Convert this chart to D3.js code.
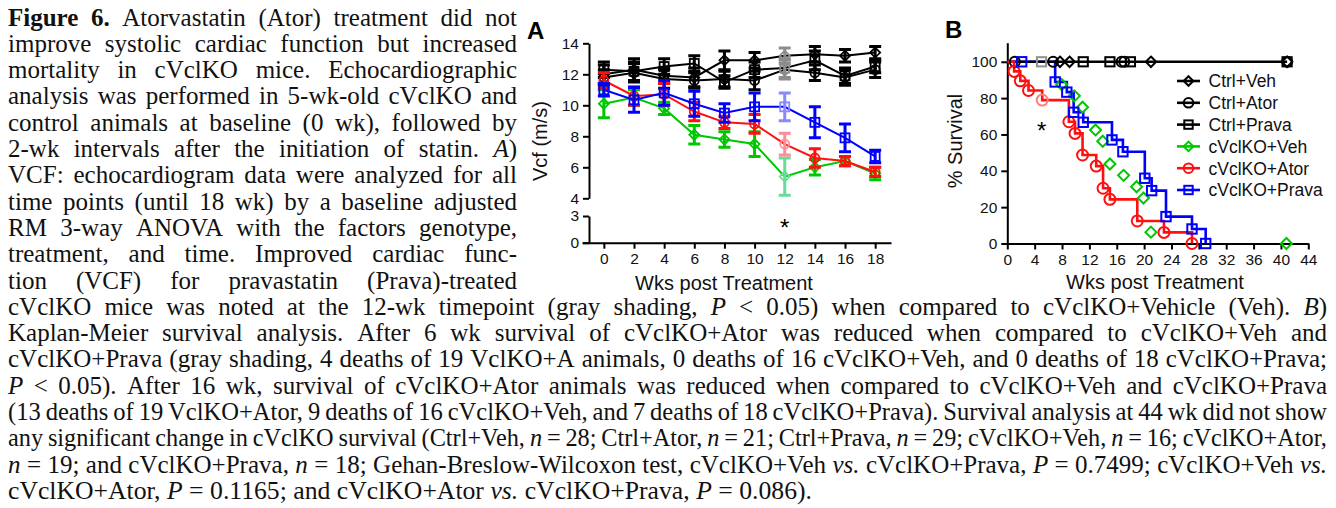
<!DOCTYPE html>
<html><head><meta charset="utf-8">
<script src="https://cdn.jsdelivr.net/npm/d3@7"></script>
<style>body{margin:0;background:#fff}svg{display:block}</style>
</head><body>
<svg id="c" width="1336" height="508"></svg>
<script>
// ---------------- DATA ----------------
const weeks = [0, 2, 4, 6, 8, 10, 12, 14, 16, 18];
const ctrlVehA   = [12.0, 12.3, 11.9, 11.8, 12.9, 12.9, 13.2, 13.3, 13.2, 13.4];
const ctrlVehErr = [0.6, 0.7, 0.5, 0.6, 0.6, 0.5, 0.5, 0.5, 0.4, 0.4];
const ctrlAtorA  = [11.8, 12.1, 11.7, 11.6, 11.7, 11.6, 12.3, 12.1, 11.8, 12.3];
const ctrlAtorErr= [0.5, 0.6, 0.6, 0.5, 0.5, 0.6, 0.6, 0.5, 0.5, 0.5];
const ctrlPravaA = [12.3, 12.2, 12.5, 12.7, 11.5, 12.3, 12.4, 12.9, 11.9, 12.5];
const ctrlPravaErr=[0.5, 0.6, 0.5, 0.5, 0.4, 0.5, 0.6, 0.6, 0.5, 0.4];
const koVehA     = [10.1, 10.5, 9.8, 8.1, 7.8, 7.5, 5.4, 6.0, 6.4, 5.6];
const koVehErr   = [0.9, 0.5, 0.4, 0.6, 0.5, 0.8, 1.2, 0.5, 0.3, 0.4];
const koAtorA    = [11.6, 10.6, 10.7, 9.6, 8.9, 8.8, 7.5, 6.6, 6.4, 5.7];
const koAtorErr  = [0.5, 0.6, 0.7, 0.6, 0.4, 0.6, 0.7, 0.6, 0.3, 0.3];
const koPravaA   = [11.0, 10.35, 10.8, 10.1, 9.5, 9.9, 9.9, 8.9, 7.9, 6.7];
const koPravaErr = [0.4, 0.8, 0.8, 0.8, 0.6, 0.9, 0.9, 1.0, 0.9, 0.4];
const shadedWeek = 12;
const yTicksTop = [4, 6, 8, 10, 12, 14];
const yTicksBottom = [0, 3];

// survival (panel B): event times (wk) and survival (%) after each step
const survKoAtorT  = [1.0, 1.9, 3.1, 5.1, 9.0, 9.9, 11.0, 13.0, 14.0, 15.0, 19.0, 22.9, 27.0];
const survKoAtorS  = [94.7, 89.5, 84.2, 78.9, 67.0, 60.6, 48.7, 42.6, 30.4, 24.3, 12.4, 6.1, 0];
const survKoPravaT = [7.0, 8.7, 9.7, 11.1, 15.3, 16.9, 20.1, 21.1, 23.2, 27.0, 29.0];
const survKoPravaS = [88.9, 83.3, 72.2, 66.7, 57.0, 50.5, 35.9, 29.1, 14.8, 8.0, 0];
const survKoPravaCensorT = [2.1];
const survKoVehT   = [7.95, 9.8, 11.0, 12.9, 13.95, 15.0, 17.0, 18.9, 19.9, 21.0, 40.8];
const survKoVehS   = [87.5, 81.25, 75.0, 62.5, 56.25, 43.75, 37.5, 31.25, 25.0, 6.25, 0];
const survCtrlEndT = 40.9;
const ctrlVehCensorT   = [7.7, 9.1, 21.0, 40.9];
const ctrlAtorCensorT  = [1.1, 6.7, 16.7, 17.1, 40.9];
const ctrlPravaCensorT = [5.0, 11.1, 15.0, 18.0, 40.9];
const survShadedT = 5.0;
const survXTicks = [0, 4, 8, 12, 16, 20, 24, 28, 32, 36, 40, 44];
const survYTicks = [0, 20, 40, 60, 80, 100];
const legendNames = ["Ctrl+Veh", "Ctrl+Ator", "Ctrl+Prava", "cVclKO+Veh", "cVclKO+Ator", "cVclKO+Prava"];

// caption (^ toggles bold, * toggles italic)
const captionLeft = [
"^Figure 6.^ Atorvastatin (Ator) treatment did not",
"improve systolic cardiac function but increased",
"mortality in cVclKO mice. Echocardiographic",
"analysis was performed in 5-wk-old cVclKO and",
"control animals at baseline (0 wk), followed by",
"2-wk intervals after the initiation of statin. *A*)",
"VCF: echocardiogram data were analyzed for all",
"time points (until 18 wk) by a baseline adjusted",
"RM 3-way ANOVA with the factors genotype,",
"treatment, and time. Improved cardiac func-",
"tion (VCF) for pravastatin (Prava)-treated"
];
const captionFull = [
"cVclKO mice was noted at the 12-wk timepoint (gray shading, *P* < 0.05) when compared to cVclKO+Vehicle (Veh). *B*)",
"Kaplan-Meier survival analysis. After 6 wk survival of cVclKO+Ator was reduced when compared to cVclKO+Veh and",
"cVclKO+Prava (gray shading, 4 deaths of 19 VclKO+A animals, 0 deaths of 16 cVclKO+Veh, and 0 deaths of 18 cVclKO+Prava;",
"*P* < 0.05). After 16 wk, survival of cVclKO+Ator animals was reduced when compared to cVclKO+Veh and cVclKO+Prava",
"(13 deaths of 19 VclKO+Ator, 9 deaths of 16 cVclKO+Veh, and 7 deaths of 18 cVclKO+Prava). Survival analysis at 44 wk did not show",
"any significant change in cVclKO survival (Ctrl+Veh, *n* = 28; Ctrl+Ator, *n* = 21; Ctrl+Prava, *n* = 29; cVclKO+Veh, *n* = 16; cVclKO+Ator,",
"*n* = 19; and cVclKO+Prava, *n* = 18; Gehan-Breslow-Wilcoxon test, cVclKO+Veh *vs.* cVclKO+Prava, *P* = 0.7499; cVclKO+Veh *vs.*",
"cVclKO+Ator, *P* = 0.1165; and cVclKO+Ator *vs.* cVclKO+Prava, *P* = 0.086)."
];

// ---------------- DRAWING ----------------
const SANS = "'Liberation Sans', Arial, Helvetica, sans-serif";
const SERIF = "'Liberation Serif', 'Times New Roman', serif";
const svg = d3.select('#c');

// ---- caption ----
const CAP_FS = 25;
const capG = svg.append('g').attr('font-family', SERIF).attr('font-size', CAP_FS).attr('fill', '#111');
function drawCaptionLine(str, x0, x1, baseline, justify) {
  const words = []; let cur = []; let b = false, it = false, buf = '';
  const flush = () => { if (buf) { cur.push({t: buf, b, i: it}); buf = ''; } };
  for (const ch of str) {
    if (ch === '^') { flush(); b = !b; continue; }
    if (ch === '*') { flush(); it = !it; continue; }
    if (ch === ' ') { flush(); if (cur.length) { words.push(cur); cur = []; } continue; }
    buf += ch;
  }
  flush(); if (cur.length) words.push(cur);
  const lg = capG.append('g');
  const nodes = words.map(w => {
    const t = lg.append('text');
    w.forEach(r => t.append('tspan').text(r.t)
      .attr('font-weight', r.b ? 'bold' : null)
      .attr('font-style', r.i ? 'italic' : null));
    return t;
  });
  const widths = nodes.map(n => n.node().getComputedTextLength());
  const sum = d3.sum(widths);
  const n = nodes.length, W = x1 - x0;
  const natGap = CAP_FS * 0.25, minGap = CAP_FS * 0.2;
  let s = 1, gap = natGap;
  if (justify && n > 1) {
    gap = (W - sum) / (n - 1);
    if (gap < minGap) { gap = minGap; s = W / (sum + (n - 1) * minGap); }
  } else {
    s = W / (sum + (n - 1) * natGap);
  }
  let x = 0;
  nodes.forEach((nd, i) => { nd.attr('x', x); x += widths[i] + gap; });
  lg.attr('transform', `translate(${x0},${baseline}) scale(${s},1)`);
}
const CAP_BASE0 = 25.5, CAP_STEP = 26.3;
captionLeft.forEach((l, i) => drawCaptionLine(l, 8, 517, CAP_BASE0 + i * CAP_STEP, true));
captionFull.forEach((l, i) => {
  const last = i === captionFull.length - 1;
  drawCaptionLine(l, 8, last ? 812 : 1327, CAP_BASE0 + (i + captionLeft.length) * CAP_STEP, !last);
});

// ---- markers ----
function marker(g, shape, x, y, r, color, sw) {
  if (shape === 'circle') {
    g.append('circle').attr('cx', x).attr('cy', y).attr('r', r)
      .attr('fill', 'none').attr('stroke', color).attr('stroke-width', sw);
  } else if (shape === 'square') {
    g.append('rect').attr('x', x - r).attr('y', y - r).attr('width', 2 * r).attr('height', 2 * r)
      .attr('fill', 'none').attr('stroke', color).attr('stroke-width', sw);
  } else {
    g.append('path').attr('d', `M${x},${y - r}L${x + r},${y}L${x},${y + r}L${x - r},${y}Z`)
      .attr('fill', 'none').attr('stroke', color).attr('stroke-width', sw);
  }
}
function styleAxis(g, fs) {
  g.attr('font-family', SANS).attr('font-size', fs);
  g.selectAll('.domain').attr('stroke', '#000').attr('stroke-width', 2);
  g.selectAll('.tick line').attr('stroke', '#000').attr('stroke-width', 2);
  g.selectAll('.tick text').attr('fill', '#111');
}
const fmtInt = d3.format('d');

// ---- Panel A ----
const gA = svg.append('g');
const xA = d3.scaleLinear().domain([-1.45, 19.05]).range([582, 891]);
const yTop = d3.scaleLinear().domain([4, 14]).range([198.3, 43.3]);
const yBot = d3.scaleLinear().domain([0, 3]).range([242.7, 216]);
const yA = v => v >= 4 ? yTop(v) : yBot(v);

styleAxis(gA.append('g').attr('transform', 'translate(589,0)')
  .call(d3.axisLeft(yTop).tickValues(yTicksTop).tickFormat(fmtInt).tickSize(6).tickSizeOuter(0).tickPadding(4)), 15.5);
styleAxis(gA.append('g').attr('transform', 'translate(589,0)')
  .call(d3.axisLeft(yBot).tickValues(yTicksBottom).tickFormat(fmtInt).tickSize(6).tickSizeOuter(0).tickPadding(4)), 15.5);
styleAxis(gA.append('g').attr('transform', 'translate(0,242.7)')
  .call(d3.axisBottom(xA).tickValues(weeks).tickFormat(fmtInt).tickSize(6).tickSizeOuter(0).tickPadding(4)), 15.5);

gA.append('text').text('A').attr('x', 527).attr('y', 38.5).attr('font-family', SANS)
  .attr('font-weight', 'bold').attr('font-size', 24).attr('fill', '#000');
gA.append('text').text('Vcf (m/s)').attr('transform', 'translate(547,141) rotate(-90)')
  .attr('text-anchor', 'middle').attr('font-family', SANS).attr('font-size', 20).attr('fill', '#111');
gA.append('text').text('Wks post Treatment').attr('x', 724).attr('y', 290)
  .attr('text-anchor', 'middle').attr('font-family', SANS).attr('font-size', 20).attr('fill', '#111');
gA.append('text').text('*').attr('x', xA(shadedWeek)).attr('y', 236)
  .attr('text-anchor', 'middle').attr('font-family', SANS).attr('font-size', 24).attr('fill', '#000');

const seriesA = [
  {v: ctrlVehA, e: ctrlVehErr, c: '#000', f: '#8c8c8c', s: 'diamond'},
  {v: ctrlAtorA, e: ctrlAtorErr, c: '#000', f: '#8c8c8c', s: 'circle'},
  {v: ctrlPravaA, e: ctrlPravaErr, c: '#000', f: '#8c8c8c', s: 'square'},
  {v: koVehA, e: koVehErr, c: '#00c800', f: '#66dd99', s: 'diamond'},
  {v: koAtorA, e: koAtorErr, c: '#ff1010', f: '#ff8c96', s: 'circle'},
  {v: koPravaA, e: koPravaErr, c: '#0000ff', f: '#8888ff', s: 'square'}
];
const lineA = d3.line().x((d, i) => xA(weeks[i])).y(d => yA(d));
seriesA.forEach(S => {
  const g = gA.append('g');
  g.append('path').attr('d', lineA(S.v)).attr('fill', 'none').attr('stroke', S.c).attr('stroke-width', 2);
  S.v.forEach((v, i) => {
    const col = weeks[i] === shadedWeek ? S.f : S.c;
    const x = xA(weeks[i]), y1 = yA(v + S.e[i]), y2 = yA(v - S.e[i]);
    g.append('path').attr('d', `M${x},${y1}V${y2}M${x - 6},${y1}H${x + 6}M${x - 6},${y2}H${x + 6}`)
      .attr('stroke', col).attr('stroke-width', 3).attr('fill', 'none');
    marker(g, S.s, x, yA(v), S.s === 'diamond' ? 5 : 4.5, col, 1.8);
  });
});

// ---- Panel B ----
const gB = svg.append('g');
const xB = d3.scaleLinear().domain([0, 44]).range([1007.3, 1308.3]);
const yB = d3.scaleLinear().domain([0, 110.5]).range([243.5, 42.7]);
styleAxis(gB.append('g').attr('transform', 'translate(1007.3,0)')
  .call(d3.axisLeft(yB).tickValues(survYTicks).tickFormat(fmtInt).tickSize(6).tickSizeOuter(0).tickPadding(4)), 15.5);
styleAxis(gB.append('g').attr('transform', 'translate(0,243.5)')
  .call(d3.axisBottom(xB).tickValues(survXTicks).tickFormat(fmtInt).tickSize(6).tickSizeOuter(0).tickPadding(4)), 15.5);

gB.append('text').text('B').attr('x', 945).attr('y', 37.5).attr('font-family', SANS)
  .attr('font-weight', 'bold').attr('font-size', 24).attr('fill', '#000');
gB.append('text').text('% Survival').attr('transform', 'translate(962,141) rotate(-90)')
  .attr('text-anchor', 'middle').attr('font-family', SANS).attr('font-size', 20).attr('fill', '#111');
gB.append('text').text('Wks post Treatment').attr('x', 1155).attr('y', 289)
  .attr('text-anchor', 'middle').attr('font-family', SANS).attr('font-size', 20).attr('fill', '#111');
gB.append('text').text('*').attr('x', 1041.7).attr('y', 139)
  .attr('text-anchor', 'middle').attr('font-family', SANS).attr('font-size', 24).attr('fill', '#000');

const stepLine = d3.line().x(d => xB(d[0])).y(d => yB(d[1])).curve(d3.curveStepAfter);
const kmPts = (T, Sv) => [[0, 100]].concat(T.map((t, i) => [t, Sv[i]]));
// lines
gB.append('path').attr('d', stepLine(kmPts(survKoPravaT, survKoPravaS))).attr('fill', 'none').attr('stroke', '#0000ff').attr('stroke-width', 2.6);
gB.append('path').attr('d', stepLine([[0, 100], [survCtrlEndT, 100]])).attr('fill', 'none').attr('stroke', '#000').attr('stroke-width', 2.6);
gB.append('path').attr('d', stepLine(kmPts(survKoAtorT, survKoAtorS))).attr('fill', 'none').attr('stroke', '#ff1010').attr('stroke-width', 2.6);
// markers
const mB = gB.append('g');
const fadedB = t => Math.abs(t - survShadedT) < 0.2;
ctrlVehCensorT.forEach(t => marker(mB, 'diamond', xB(t), yB(100), 5.2, fadedB(t) ? '#909090' : '#000', 2));
ctrlAtorCensorT.forEach(t => marker(mB, 'circle', xB(t), yB(100), 5, fadedB(t) ? '#909090' : '#000', 2));
ctrlPravaCensorT.forEach(t => marker(mB, 'square', xB(t), yB(100), 4.6, fadedB(t) ? '#909090' : '#000', 2));
survKoVehT.forEach((t, i) => marker(mB, 'diamond', xB(t), yB(survKoVehS[i]), 5.5, '#00c800', 2));
survKoAtorT.forEach((t, i) => marker(mB, 'circle', xB(t), yB(survKoAtorS[i]), 5.5, Math.abs(t - 5.1) < 0.2 ? '#ff8080' : '#ff1010', 2));
survKoPravaT.forEach((t, i) => marker(mB, 'square', xB(t), yB(survKoPravaS[i]), 4.7, '#0000ff', 2));
survKoPravaCensorT.forEach(t => marker(mB, 'square', xB(t), yB(100), 4.7, '#0000ff', 2));

// legend
const legStyle = [
  {c: '#000', s: 'diamond', r: 4.8}, {c: '#000', s: 'circle', r: 4.8}, {c: '#000', s: 'square', r: 4.2},
  {c: '#00c800', s: 'diamond', r: 4.8}, {c: '#ff1010', s: 'circle', r: 4.8}, {c: '#0000ff', s: 'square', r: 4.2}
];
const legY = d3.scalePoint().domain(legendNames).range([81, 190]);
legendNames.forEach((nm, i) => {
  const y = legY(nm), st = legStyle[i];
  gB.append('line').attr('x1', 1177).attr('x2', 1200).attr('y1', y).attr('y2', y)
    .attr('stroke', st.c).attr('stroke-width', 2.6);
  marker(gB, st.s, 1188.5, y, st.r, st.c, 2);
  gB.append('text').text(nm).attr('x', 1208.5).attr('y', y + 6.3)
    .attr('font-family', SANS).attr('font-size', 17.5).attr('fill', '#111');
});
</script>
</body></html>
